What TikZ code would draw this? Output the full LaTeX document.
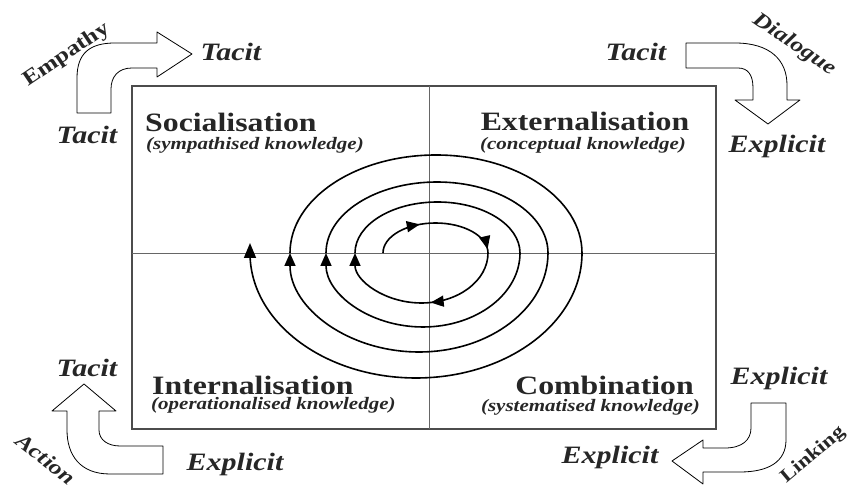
\documentclass[tikz,border=0pt]{standalone}
\usepackage{fontspec}
\setmainfont[FakeStretch=1.2]{Liberation Serif}
\usetikzlibrary{arrows.meta, decorations.markings}

\begin{document}
\begin{tikzpicture}[x=1pt, y=1pt,
          quad/.style={font=\fontsize{26.5}{26.5}\selectfont\bfseries,
                       text=black!85, inner sep=0pt},
          sub/.style={font=\fontsize{17.5}{17.5}\selectfont\bfseries\itshape,
                      text=black!85, inner sep=0pt},
          kind/.style={font=\fontsize{25}{25}\selectfont\bfseries\itshape,
                       text=black!85, inner sep=0pt},
          mode/.style={font=\fontsize{21}{21}\selectfont\bfseries,
                       text=black!85, inner sep=0pt},
          modeit/.style={font=\fontsize{21}{21}\selectfont\bfseries\itshape,
                         text=black!85, inner sep=0pt},
          bent/.style={draw=black, line width=0.8pt, fill=white,
                       line join=round},
          divider/.style={draw=black!60, line width=0.8pt},
          turn/.style={line width=1.6pt, -{Triangle[length=13pt, width=11pt]}},
          coil/.style={line width=1.6pt}
        ]
        \useasboundingbox (0,0) rectangle (847,489);

        % Frame
        \coordinate (nw) at (132,403);
        \coordinate (se) at (716,60);
        \coordinate (o)  at (429,236);
        \draw[black!70, line width=1.4pt] (nw) rectangle (se);
        \draw[divider] (o |- nw) -- (o |- se);
        \draw[divider] (nw |- o) -- (se |- o);

        % Quadrants
        \node[quad, anchor=west] (soc)    at (145,367) {Socialisation};
        \node[sub,  anchor=west] (socsub) at (146,344) {(sympathised knowledge)};
        \node[quad] (ext)    at (585,368) {Externalisation};
        \node[sub]  (extsub) at (583,344) {(conceptual knowledge)};
        \node[quad, anchor=west] (int)    at (152,104) {Internalisation};
        \node[sub,  anchor=west] (intsub) at (151,84) {(operationalised knowledge)};
        \node[quad, anchor=east] (com)    at (694,104) {Combination};
        \node[sub,  anchor=east] (comsub) at (700,82) {(systematised knowledge)};

        % Spiral
        \draw[coil, postaction={decorate}, decoration={markings,
              mark=at position 0.38 with {\arrow{Triangle[length=13pt, width=11pt]}},
              mark=at position 0.97 with {\arrow{Triangle[length=13pt, width=11pt]}}}]
          (383,236) arc[start angle=180, end angle=0, x radius=52.5, y radius=30];
        \draw[turn, postaction={decorate}, decoration={markings,
              mark=at position 0.45 with {\arrow{Triangle[length=13pt, width=11pt]}}}]
          (488,236) arc[start angle=0, end angle=-180, x radius=66.5, y radius=50];
        \draw[coil] (355,236) arc[start angle=180, end angle=0, x radius=82.5, y radius=51];
        \draw[turn] (520,236) arc[start angle=0, end angle=-180, x radius=97, y radius=74];
        \draw[coil] (326,236) arc[start angle=180, end angle=0, x radius=111, y radius=71];
        \draw[turn] (548,236) arc[start angle=0, end angle=-180, x radius=129, y radius=99];
        \draw[coil] (290,236) arc[start angle=180, end angle=0, x radius=146, y radius=98];
        \draw[turn, -{Triangle[length=15pt, width=12pt]}] (582,236)
          arc[start angle=0, end angle=-180, x radius=166, y radius=125] -- ++(0,10);

        % Empathy
        \draw[bent] (77,376) -- (77,411) .. controls (77,436) and (90,446) .. (115,446)
          -- (157,446) -- (157,457) -- (192,435) -- (157,412) -- (157,421) -- (132,421)
          .. controls (118,421) and (111,412) .. (111,400) -- (111,376) -- cycle;
        \node[kind] (tacit1) at (231,437) {Tacit};
        \node[kind] (tacit2) at (87,354) {Tacit};
        \node[mode, rotate=34] (empathy) at (67,434) {Empathy};

        % Dialogue
        \draw[bent] (686,446) -- (735,446) .. controls (770,446) and (787,429) .. (787,404)
          -- (787,389) -- (800,389) -- (768,365) -- (735,389) -- (753,389) -- (753,401)
          .. controls (753,414) and (748,421) .. (738,421) -- (686,421) -- cycle;
        \node[kind] (tacit3) at (636,437) {Tacit};
        \node[kind] (explicit1) at (777,343) {Explicit};
        \node[modeit, rotate=-34] (dialogue) at (794,444) {Dialogue};

        % Action
        \draw[bent] (52,78) -- (84,105) -- (116,78) -- (99,78) -- (99,59)
          .. controls (99,49) and (108,43) .. (120,43) -- (163,43) -- (163,15) -- (110,15)
          .. controls (80,15) and (67,34) .. (67,59) -- (67,78) -- cycle;
        \node[kind] (tacit4) at (87,121) {Tacit};
        \node[kind] (explicit2) at (235,25) {Explicit};
        \node[modeit, rotate=-38] (action) at (46,30) {Action};

        % Linking
        \draw[bent] (751,86) -- (786,86) -- (786,49) .. controls (786,27) and (768,17) .. (740,17)
          -- (703,17) -- (703,5) -- (672,28) -- (703,49) -- (703,41) -- (725,41)
          .. controls (742,41) and (751,49) .. (751,61) -- cycle;
        \node[kind] (explicit3) at (779,111) {Explicit};
        \node[kind] (explicit4) at (610,32) {Explicit};
        \node[mode, font=\fontsize{19}{19}\selectfont\bfseries, rotate=40]
          (linking) at (813,34) {Linking};
      \end{tikzpicture}
\end{document}
